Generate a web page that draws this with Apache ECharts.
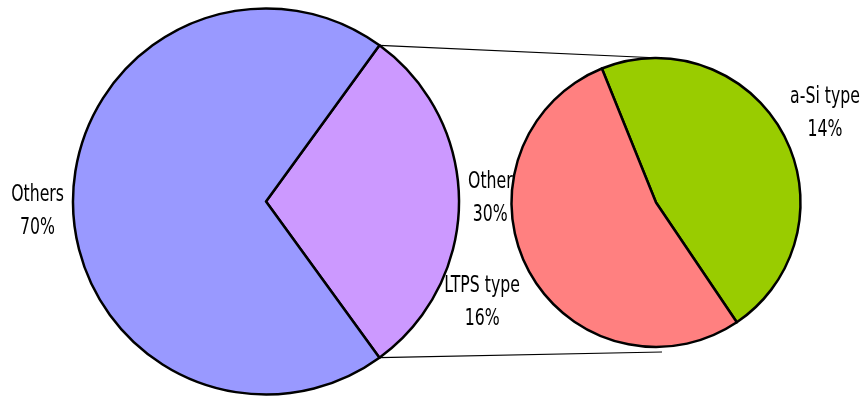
<!DOCTYPE html>
<html>
<head>
<meta charset="utf-8">
<script src="https://cdn.jsdelivr.net/npm/echarts@6/dist/echarts.min.js"></script>
<style>
  html, body { margin: 0; padding: 0; background: #fff; }
  #chart { width: 861px; height: 396px; }
</style>
</head>
<body>
<div id="chart"></div>
<script>
// Display panel technology share (percent of total)
const mainNames = ['Other', 'Others'];
const mainValues = [30, 70];
const subNames = ['a-Si type', 'LTPS type'];
const subValues = [14, 16];

const mainColors = ['#CC99FF', '#9999FF'];
const subColors = ['#99CC00', '#FF8080'];

const FONT = "'DejaVu Sans Condensed', 'Liberation Sans Narrow', 'Liberation Sans', sans-serif";
const TEXT_SQUEEZE = 0.76;   // horizontal squeeze for a narrow label face

// Pie geometry (pixels)
const mainCenter = [266, 201.5], mainR = 193, mainStart = 54;
const subCenter = [656, 202.5], subR = 144.5, subStart = 112;

// Small per-label nudges [dx, dy]
const labelNudge = {
  'Others': [0, 10],
  'Other': [0, -3],
  'LTPS type': [0, 30],
  'a-Si type': [-2, -19]
};

const chart = echarts.init(document.getElementById('chart'), null, { renderer: 'canvas' });

const labelStyle = {
  show: true,
  position: 'outside',
  formatter: p => p.name + '\n' + p.value + '%',
  fontFamily: FONT,
  fontSize: 23,
  lineHeight: 33,
  color: '#000'
};

function makeLayout(names) {
  return function (params) {
    const r = params.labelRect;
    const w = r.width * TEXT_SQUEEZE;
    const cx = params.align === 'right' ? r.x + r.width - w / 2 : r.x + w / 2;
    const nudge = labelNudge[names[params.dataIndex]] || [0, 0];
    return {
      align: 'center',
      verticalAlign: 'middle',
      x: cx + nudge[0],
      y: r.y + r.height / 2 + nudge[1]
    };
  };
}

// Connector lines from the split slice's edges to the top/bottom of the sub pie
const mainTotal = mainValues.reduce((a, b) => a + b, 0);
const a1 = mainStart * Math.PI / 180;
const a2 = (mainStart - 360 * mainValues[0] / mainTotal) * Math.PI / 180;
const p1 = [mainCenter[0] + mainR * Math.cos(a1), mainCenter[1] - mainR * Math.sin(a1)];
const p2 = [mainCenter[0] + mainR * Math.cos(a2), mainCenter[1] - mainR * Math.sin(a2)];
const q1 = [subCenter[0] + 4, subCenter[1] - subR];
const q2 = [subCenter[0] + 6, subCenter[1] + subR + 5];

chart.setOption({
  animation: false,
  backgroundColor: '#fff',
  graphic: [
    { type: 'line', z: 0, shape: { x1: p1[0], y1: p1[1], x2: q1[0], y2: q1[1] }, style: { stroke: '#000', lineWidth: 1.2 } },
    { type: 'line', z: 0, shape: { x1: p2[0], y1: p2[1], x2: q2[0], y2: q2[1] }, style: { stroke: '#000', lineWidth: 1.2 } }
  ],
  series: [
    {
      type: 'pie',
      z: 2,
      center: mainCenter,
      radius: mainR,
      startAngle: mainStart,
      clockwise: true,
      avoidLabelOverlap: false,
      silent: true,
      itemStyle: { borderColor: '#000', borderWidth: 2.5 },
      label: labelStyle,
      labelLine: { show: false, length: 4, length2: 0 },
      labelLayout: makeLayout(mainNames),
      data: mainNames.map((n, i) => ({ name: n, value: mainValues[i], itemStyle: { color: mainColors[i] } }))
    },
    {
      type: 'pie',
      z: 3,
      center: subCenter,
      radius: subR,
      startAngle: subStart,
      clockwise: true,
      avoidLabelOverlap: false,
      silent: true,
      itemStyle: { borderColor: '#000', borderWidth: 2.5 },
      label: labelStyle,
      labelLine: { show: false, length: 4, length2: 0 },
      labelLayout: makeLayout(subNames),
      data: subNames.map((n, i) => ({ name: n, value: subValues[i], itemStyle: { color: subColors[i] } }))
    }
  ]
});

// Squeeze the label text horizontally around its centre
(function squeezeLabels() {
  const zr = chart.getZr();
  const visit = el => {
    const t = el.getTextContent && el.getTextContent();
    if (t) { t.scaleX = TEXT_SQUEEZE; t.markRedraw(); }
    if (el.childrenRef) (el.childrenRef() || []).forEach(visit);
  };
  zr.storage.getRoots().forEach(visit);
  zr.refresh();
})();
</script>
</body>
</html>
